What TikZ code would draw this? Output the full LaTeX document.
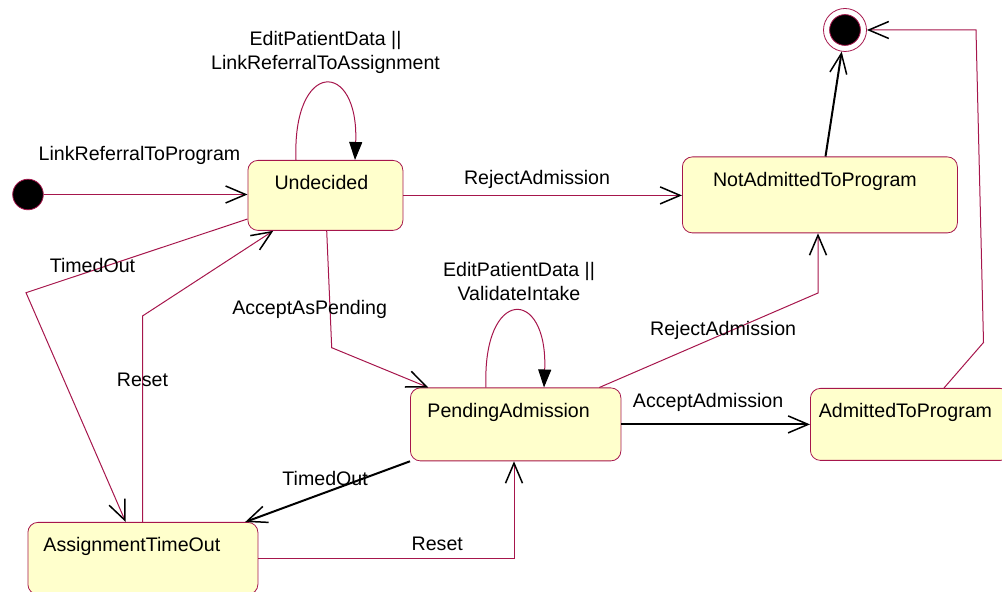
\documentclass[tikz,border=0pt]{standalone}
\usepackage{fontspec}
\setmainfont{Liberation Sans}
\usetikzlibrary{arrows.meta}

\definecolor{rosered}{RGB}{166,22,76}
\definecolor{rosefill}{RGB}{255,255,204}

\tikzstyle{state} = [draw=rosered, fill=rosefill, rectangle, rounded corners=5pt,
    anchor=north west, inner sep=0pt, text height=14.8pt, text depth=21.2pt]
\tikzstyle{startdot} = [draw=rosered, fill=black, circle, minimum size=15.3pt, inner sep=0pt]
\tikzstyle{enddot} = [draw=rosered, fill=white, circle, minimum size=21.5pt, inner sep=0pt,
    path picture={\draw[rosered, fill=black] (path picture bounding box.center) circle (7.7pt);}]
\tikzstyle{trans} = [draw=rosered, line width=0.5pt,
    -{Straight Barb[length=10pt, width=8.5pt, line width=0.75pt, color=black]}]
\tikzstyle{strong} = [draw=black, line width=1pt,
    -{Straight Barb[length=10pt, width=8.5pt, line width=0.75pt]}]
\tikzstyle{selfloop} = [draw=rosered, line width=0.5pt,
    -{Triangle[length=9pt, width=6.5pt, color=black]}]

\begin{document}
\begin{tikzpicture}[x=0.5pt, y=-0.5pt, font=\fontsize{9.8}{11.8}\selectfont]
    \useasboundingbox (0,0) rectangle (1002,592);

    % states
    \node [startdot] (init) at (28,194.5) {};
    \node [enddot] (final) at (845,30) {};
    \node [state, minimum width=77.5pt, text depth=20.2pt] (undecided) at (247.5,160) {Undecided\kern4pt};
    \node [state, minimum width=137.5pt, text depth=23.2pt] (notadmitted) at (682,156.5) {NotAdmittedToProgram\kern5pt};
    \node [state, minimum width=105.25pt, text depth=21.7pt] (pending) at (410,387.5) {PendingAdmission\kern7pt};
    \node [state, minimum width=100pt] (admitted) at (810,388) {AdmittedToProgram\kern5pt};
    \node [state, minimum width=115pt] (timeout) at (27.5,522) {AssignmentTimeOut\kern11pt};

    % bends
    \coordinate (a1) at (983.5,342.5);
    \coordinate (a2) at (976,30);
    \coordinate (b1) at (331.7,347.7);
    \coordinate (c1) at (818,293);
    \coordinate (d1) at (26,292.7);
    \coordinate (e1) at (142.5,316);

    % transitions
    \draw [trans] (init) -- node[pos=0.47, yshift=19.5pt] (l1) {LinkReferralToProgram} (init -| undecided.west);
    \draw [selfloop] ([xshift=24.25pt]undecided.north west) .. controls +(-4,-101) and +(4,-101) ..
        node[yshift=16pt, align=center] (l2) {EditPatientData ||\\LinkReferralToAssignment} ([xshift=53.75pt]undecided.north west);
    \draw [trans] (undecided.east) -- node[pos=0.48, yshift=7.75pt] (l3) {RejectAdmission} (undecided.east -| notadmitted.west);
    \draw [strong] ([xshift=71.75pt]notadmitted.north west) -- (final);
    \draw [trans] ([xshift=67pt]admitted.north west) -- (a1) -- (a2) -- (final);
    \draw [trans] ([xshift=39.6pt]undecided.south west) -- node[pos=0.67, xshift=-10.2pt] (l4) {AcceptAsPending} (b1)
        -- ([xshift=9.15pt]pending.north west);
    \draw [selfloop] ([xshift=38pt]pending.north west) .. controls +(-4,-101) and +(4,-101) ..
        node[xshift=2pt, yshift=15pt, align=center] (l5) {EditPatientData ||\\ValidateIntake} ([xshift=67pt]pending.north west);
    \draw [trans] ([xshift=94.65pt]pending.north west) -- node[pos=0.566, yshift=2pt] (l6) {RejectAdmission} (c1)
        -- (c1 |- notadmitted.south);
    \draw [strong] (pending.east) -- node[pos=0.46, yshift=11pt] (l7) {AcceptAdmission} (pending.east -| admitted.west);
    \draw [strong] (pending.south west) -- node[pos=0.515, yshift=7pt] (l8) {TimedOut} ([xshift=108.85pt]timeout.north west);
    \draw [trans] (timeout.east) -| node[pos=0.35, yshift=7.35pt] (l9) {Reset} ([xshift=52pt]pending.south west);
    \draw [trans] ([yshift=-29.5pt]undecided.north west) -- node[pos=0.7, yshift=2.5pt] (l10) {TimedOut} (d1)
        -- ([xshift=49.1pt]timeout.north west);
    \draw [trans] ([xshift=57.5pt]timeout.north west) -- node[pos=0.69] (l11) {Reset} (e1)
        -- ([xshift=12.9pt]undecided.south west);
\end{tikzpicture}
\end{document}
